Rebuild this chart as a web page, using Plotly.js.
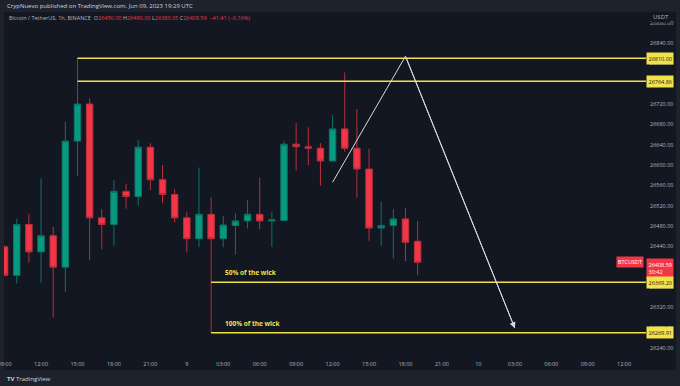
<!DOCTYPE html>
<html>
<head>
<meta charset="utf-8">
<script src="https://cdn.plot.ly/plotly-3.0.1.min.js"></script>
<style>html,body{margin:0;padding:0;background:#1e222d;}#chart{width:680px;height:386px;}</style>
</head>
<body>
<div id="chart"></div>
<script>
// ---- data (1h BTCUSDT candles, 8 Jun 09:00 -> 9 Jun 19:00 UTC) ----
const times = [
 "2023-06-08 09:00","2023-06-08 10:00","2023-06-08 11:00","2023-06-08 12:00","2023-06-08 13:00",
 "2023-06-08 14:00","2023-06-08 15:00","2023-06-08 16:00","2023-06-08 17:00","2023-06-08 18:00",
 "2023-06-08 19:00","2023-06-08 20:00","2023-06-08 21:00","2023-06-08 22:00","2023-06-08 23:00",
 "2023-06-09 00:00","2023-06-09 01:00","2023-06-09 02:00","2023-06-09 03:00","2023-06-09 04:00",
 "2023-06-09 05:00","2023-06-09 06:00","2023-06-09 07:00","2023-06-09 08:00","2023-06-09 09:00",
 "2023-06-09 10:00","2023-06-09 11:00","2023-06-09 12:00","2023-06-09 13:00","2023-06-09 14:00",
 "2023-06-09 15:00","2023-06-09 16:00","2023-06-09 17:00","2023-06-09 18:00","2023-06-09 19:00"];
const openP  = [26439,26383,26483,26429,26461,26399,26647,26720,26496,26483,26548,26538,26635,26571,26542,
                26496,26455,26503,26455,26481,26490,26503,26490,26491,26641,26636,26633,26608,26671,26633,
                26592,26476,26481,26494,26450];
const highP  = [26442,26494,26504,26574,26478,26685,26810,26731,26513,26570,26563,26649,26643,26600,26552,
                26508,26595,26536,26500,26505,26531,26575,26508,26648,26683,26674,26643,26698,26782,26710,
                26632,26528,26513,26515,26490];
const lowP   = [26381,26367,26408,26368,26300,26351,26578,26413,26434,26441,26514,26520,26551,26525,26487,
                26428,26439,26269.91,26438,26424,26475,26474,26439,26490,26589,26600,26559,26607,26626,26536,
                26451,26441,26416,26411,26383.05];
const closeP = [26383,26483,26429,26461,26399,26647,26720,26496,26483,26548,26538,26635,26571,26542,26496,
                26455,26503,26455,26482,26490,26503,26490,26492,26641,26636,26633,26608,26671,26633,26592,
                26476,26481,26494,26448,26408.59];

// horizontal levels drawn on the chart
const levelValues = [26810.00, 26764.86, 26369.20, 26269.91];
const levelStarts = ["2023-06-08 15:00","2023-06-08 15:00","2023-06-09 02:00","2023-06-09 02:00"];
const levelLabels = ["26810.00","26764.86","26369.20","26269.91"];
const wickNotes = ["50% of the wick","100% of the wick"];
const wickNoteLevels = [26369.20, 26269.91];

// projected path (drawing)
const pathX = ["2023-06-09 12:00","2023-06-09 18:00","2023-06-10 03:00"];
const pathY = [26566, 26814, 26279];

// time axis ticks
const tickTimes = ["2023-06-08 09:00","2023-06-08 12:00","2023-06-08 15:00","2023-06-08 18:00","2023-06-08 21:00",
  "2023-06-09 00:00","2023-06-09 03:00","2023-06-09 06:00","2023-06-09 09:00","2023-06-09 12:00",
  "2023-06-09 15:00","2023-06-09 18:00","2023-06-09 21:00","2023-06-10 00:00","2023-06-10 03:00",
  "2023-06-10 06:00","2023-06-10 09:00","2023-06-10 12:00"];
const tickText = ["09:00","12:00","15:00","18:00","21:00","9","03:00","06:00","09:00","12:00",
  "15:00","18:00","21:00","10","03:00","06:00","09:00","12:00"];

const lastPrice = 26408.59;
const lastPriceText = "26408.59<br>30:42";
const symbol = "BTCUSDT";

// ---- styling ----
const GREEN = "#089981", RED = "#f23645", YEL = "#f2e24a", TXT = "#b2b5be", BG = "#131722", OUT = "#1e222d";
const GREEN_W = "#0a7565", RED_W = "#b8303e";
const FONT = "Open Sans, Liberation Sans, sans-serif";
const xRange = ["2023-06-08 08:57", "2023-06-10 13:48"];
const yRange = [26226.2, 26901];

const traces = [
  {
    type: "candlestick", x: times, open: openP, high: highP, low: lowP, close: closeP,
    increasing: {line: {color: GREEN_W, width: 1}, fillcolor: GREEN},
    decreasing: {line: {color: RED_W, width: 1}, fillcolor: RED},
    whiskerwidth: 0, hoverinfo: "skip", showlegend: false
  },
  {
    type: "scatter", mode: "lines", x: pathX, y: pathY,
    line: {color: "#d8dae0", width: 1}, hoverinfo: "skip", showlegend: false
  }
];

const shapes = [
  {type: "rect", xref: "paper", yref: "paper", x0: 0, x1: 1.0467, y0: -0.0437, y1: 1,
   fillcolor: BG, line: {width: 0}, layer: "below"}
];
levelValues.forEach((v, i) => {
  shapes.push({type: "line", xref: "x", yref: "y", x0: levelStarts[i], x1: xRange[1], y0: v, y1: v,
    line: {color: YEL, width: 1.5}});
});

const annotations = [
  {xref: "paper", yref: "paper", x: 0.0016, y: 1.0175, xanchor: "left", yanchor: "middle", showarrow: false,
   text: "CrypNuevo published on TradingView.com, Jun 09, 2023 19:29 UTC",
   font: {family: FONT, size: 6, color: "#d1d4dc"}},
  {xref: "paper", yref: "paper", x: 0.0047, y: 0.9825, xanchor: "left", yanchor: "middle", showarrow: false,
   text: "Bitcoin / TetherUS, 1h, BINANCE  O<span style='color:" + RED + "'>" + openP[openP.length-1].toFixed(2) +
         "</span> H<span style='color:" + RED + "'>" + highP[highP.length-1].toFixed(2) +
         "</span> L<span style='color:" + RED + "'>" + lowP[lowP.length-1].toFixed(2) +
         "</span> C<span style='color:" + RED + "'>" + closeP[closeP.length-1].toFixed(2) +
         "  −41.41 (−0.16%)</span>",
   font: {family: FONT, size: 5.5, color: TXT}},
  {xref: "paper", yref: "paper", x: 1.0078, y: 0.985, xanchor: "left", yanchor: "middle", showarrow: false,
   text: "USDT", bgcolor: BG, borderpad: 1, font: {family: FONT, size: 6, color: TXT}},
  {xref: "paper", yref: "paper", x: 0.0016, y: -0.07, xanchor: "left", yanchor: "middle", showarrow: false,
   text: "<b>TV</b> TradingView", font: {family: FONT, size: 6, color: "#d1d4dc"}},
  // arrow head on the projected path
  {xref: "x", yref: "y", axref: "x", ayref: "y", x: pathX[2], y: pathY[2], ax: pathX[1], ay: pathY[1],
   text: "", showarrow: true, arrowhead: 2, arrowsize: 1.2, arrowwidth: 1, arrowcolor: "#d8dae0", standoff: 0},
  // last price label
  {xref: "paper", yref: "y", x: 1, y: lastPrice, xanchor: "left", yanchor: "top", yshift: 4, showarrow: false,
   text: lastPriceText, bgcolor: RED, borderpad: 1.5, align: "left", font: {family: FONT, size: 5.5, color: "#ffffff"}},
  {xref: "paper", yref: "y", x: 0.9975, y: lastPrice, xanchor: "right", yanchor: "middle", yshift: 0, showarrow: false,
   text: symbol, bgcolor: RED, borderpad: 1, font: {family: FONT, size: 5.5, color: "#ffffff"}}
];
levelValues.forEach((v, i) => {
  annotations.push({xref: "paper", yref: "y", x: 1, y: v, xanchor: "left", yanchor: "middle", showarrow: false,
    text: levelLabels[i], bgcolor: YEL, borderpad: 1.5, font: {family: FONT, size: 5.5, color: "#131722"}});
});
wickNotes.forEach((t, i) => {
  annotations.push({xref: "x", yref: "y", x: levelStarts[2], y: wickNoteLevels[i], xanchor: "left", yanchor: "bottom",
    xshift: 12, yshift: 3, showarrow: false, text: "<b>" + t + "</b>",
    font: {family: FONT, size: 6.5, color: YEL}});
});

const layout = {
  width: 680, height: 386,
  margin: {l: 4, r: 34, t: 12, b: 31, pad: 0},
  paper_bgcolor: OUT, plot_bgcolor: BG,
  font: {family: FONT, color: TXT, size: 6},
  showlegend: false, boxgap: 0.24, hovermode: false,
  xaxis: {
    type: "date", range: xRange, rangeslider: {visible: false},
    tickvals: tickTimes, ticktext: tickText, showgrid: false, zeroline: false, showline: false,
    ticks: "", tickfont: {family: FONT, size: 5.5, color: TXT}, ticklabelstandoff: 4,
    ticklabeloverflow: "allow"
  },
  yaxis: {
    side: "right", range: yRange, tick0: 26240, dtick: 40, tickformat: ".2f",
    showgrid: false, zeroline: false, showline: false, ticks: "",
    tickfont: {family: FONT, size: 5.5, color: TXT}, ticklabelstandoff: 3
  },
  shapes: shapes, annotations: annotations
};

Plotly.newPlot("chart", traces, layout, {displayModeBar: false, staticPlot: true});
</script>
</body>
</html>
